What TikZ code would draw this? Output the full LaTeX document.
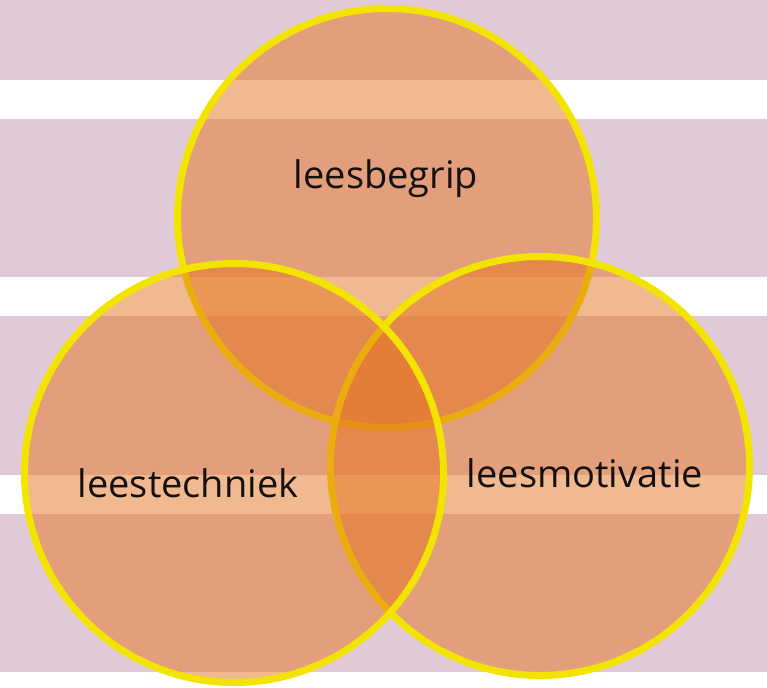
\documentclass[tikz,border=0pt]{standalone}
\usepackage{fontspec}
\setmainfont{Open Sans}
\definecolor{lilac}{RGB}{225,202,216}
\definecolor{vennfill}{RGB}{229,117,33}
\definecolor{vennline}{RGB}{243,228,0}
\definecolor{lbltext}{RGB}{20,16,16}
\begin{document}
\begin{tikzpicture}[x=1pt,y=-1pt,
  venn/.style={circle, inner sep=0pt, minimum size=419pt, fill=vennfill, fill opacity=0.5, draw=vennline, draw opacity=1, line width=7pt},
  lbl/.style={anchor=base, text=lbltext, font=\fontsize{38}{40}\selectfont, inner sep=0pt},
  band/.style={fill=lilac}]
\useasboundingbox (0,0) rectangle (767,687);
\fill[white] (0,0) rectangle (767,687);
\fill[band] (0,0) rectangle (767,80);
\fill[band] (0,119) rectangle (767,277);
\fill[band] (0,316) rectangle (767,475);
\fill[band] (0,514) rectangle (767,672);
\node[venn] (top) at (387,218) {};
\node[venn] (right) at (540,466) {};
\node[venn] (left) at (234,473) {};
\node[lbl] (tbegrip) at (386,188) {leesbegrip};
\node[lbl] (ttech) at (188,497) {leestechniek};
\node[lbl] (tmot) at (585,487) {leesmotivatie};
\end{tikzpicture}
\end{document}
